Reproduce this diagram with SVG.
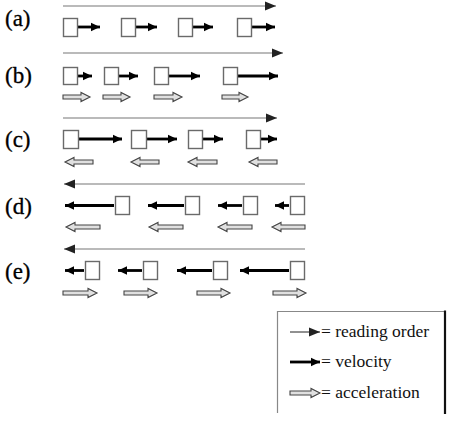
<svg xmlns="http://www.w3.org/2000/svg" width="474" height="422" viewBox="0 0 474 422">
<style>
.lbl{font-family:"Liberation Serif","DejaVu Serif",serif;font-size:23px;fill:#000;stroke:#000;stroke-width:0.3}
.leg{font-family:"Liberation Serif","Times New Roman",serif;font-size:17.5px;fill:#111}
.box{fill:#fff;stroke:#6a6a6a;stroke-width:1.4}
.ro{stroke:#777;stroke-width:1.1;fill:none}
.vel{stroke:#000;stroke-width:2.8;fill:none}
.acc{fill:#e0e0e0;stroke:#444;stroke-width:1.1;stroke-linejoin:miter}
.frame{stroke:#888;stroke-width:1.2;fill:none}
</style>
<defs>
<marker id="roHead" markerUnits="userSpaceOnUse" markerWidth="12" markerHeight="10" refX="11" refY="5" orient="auto">
<path d="M0,0.5 L11,5 L0,9.5 Z" fill="#222"/>
</marker>
<marker id="velHead" markerUnits="userSpaceOnUse" markerWidth="10" markerHeight="10" refX="9" refY="5" orient="auto">
<path d="M0,0.8 L9,5 L0,9.2 Z" fill="#000"/>
</marker>
</defs>

<g id="labels">
<text class="lbl" x="5" y="26">(a)</text>
<text class="lbl" x="5" y="83">(b)</text>
<text class="lbl" x="5" y="147">(c)</text>
<text class="lbl" x="5" y="214">(d)</text>
<text class="lbl" x="5" y="279">(e)</text>
</g>

<g id="connectors">
<!-- reading order -->
<line class="ro" x1="63" y1="6" x2="276" y2="6" marker-end="url(#roHead)"/>
<line class="ro" x1="63" y1="53" x2="283" y2="53" marker-end="url(#roHead)"/>
<line class="ro" x1="63" y1="118" x2="277" y2="118" marker-end="url(#roHead)"/>
<line class="ro" x1="305" y1="184" x2="64" y2="184" marker-end="url(#roHead)"/>
<line class="ro" x1="305" y1="249" x2="64" y2="249" marker-end="url(#roHead)"/>
<!-- velocity (a) -->
<line class="vel" x1="78" y1="27" x2="100" y2="27" marker-end="url(#velHead)"/>
<line class="vel" x1="136" y1="27" x2="157" y2="27" marker-end="url(#velHead)"/>
<line class="vel" x1="193" y1="27" x2="213" y2="27" marker-end="url(#velHead)"/>
<line class="vel" x1="252" y1="27" x2="275" y2="27" marker-end="url(#velHead)"/>
<!-- velocity (b) -->
<line class="vel" x1="78" y1="76" x2="92" y2="76" marker-end="url(#velHead)"/>
<line class="vel" x1="119" y1="76" x2="138" y2="76" marker-end="url(#velHead)"/>
<line class="vel" x1="169" y1="76" x2="200" y2="76" marker-end="url(#velHead)"/>
<line class="vel" x1="238" y1="76" x2="278" y2="76" marker-end="url(#velHead)"/>
<!-- velocity (c) -->
<line class="vel" x1="79" y1="139" x2="122" y2="139" marker-end="url(#velHead)"/>
<line class="vel" x1="147" y1="139" x2="177" y2="139" marker-end="url(#velHead)"/>
<line class="vel" x1="203" y1="139" x2="223" y2="139" marker-end="url(#velHead)"/>
<line class="vel" x1="261" y1="139" x2="277" y2="139" marker-end="url(#velHead)"/>
<!-- velocity (d) -->
<line class="vel" x1="114" y1="205.5" x2="65" y2="205.5" marker-end="url(#velHead)"/>
<line class="vel" x1="184" y1="205.5" x2="148" y2="205.5" marker-end="url(#velHead)"/>
<line class="vel" x1="242" y1="205.5" x2="218" y2="205.5" marker-end="url(#velHead)"/>
<line class="vel" x1="289" y1="205.5" x2="275" y2="205.5" marker-end="url(#velHead)"/>
<!-- velocity (e) -->
<line class="vel" x1="84" y1="270.5" x2="65" y2="270.5" marker-end="url(#velHead)"/>
<line class="vel" x1="142" y1="270.5" x2="118" y2="270.5" marker-end="url(#velHead)"/>
<line class="vel" x1="212" y1="270.5" x2="177" y2="270.5" marker-end="url(#velHead)"/>
<line class="vel" x1="289" y1="270.5" x2="240" y2="270.5" marker-end="url(#velHead)"/>
<!-- acceleration (b), rightward -->
<path class="acc" d="M63,95 H81 V92.5 L90,97 L81,101.5 V99 H63 Z"/>
<path class="acc" d="M103,95 H121 V92.5 L130,97 L121,101.5 V99 H103 Z"/>
<path class="acc" d="M154,95 H173 V92.5 L182,97 L173,101.5 V99 H154 Z"/>
<path class="acc" d="M222,95 H239 V92.5 L248,97 L239,101.5 V99 H222 Z"/>
<!-- acceleration (c), leftward -->
<path class="acc" d="M93,160 H74 V157.5 L65,162 L74,166.5 V164 H93 Z"/>
<path class="acc" d="M159,160 H140 V157.5 L131,162 L140,166.5 V164 H159 Z"/>
<path class="acc" d="M217,160 H197 V157.5 L188,162 L197,166.5 V164 H217 Z"/>
<path class="acc" d="M277,160 H258 V157.5 L249,162 L258,166.5 V164 H277 Z"/>
<!-- acceleration (d), leftward -->
<path class="acc" d="M100,225 H75 V222.5 L66,227 L75,231.5 V229 H100 Z"/>
<path class="acc" d="M183,225 H158 V222.5 L149,227 L158,231.5 V229 H183 Z"/>
<path class="acc" d="M252,225 H227 V222.5 L218,227 L227,231.5 V229 H252 Z"/>
<path class="acc" d="M305,225 H281 V222.5 L272,227 L281,231.5 V229 H305 Z"/>
<!-- acceleration (e), rightward -->
<path class="acc" d="M63,291 H88 V288.5 L97,293 L88,297.5 V295 H63 Z"/>
<path class="acc" d="M124,291 H148 V288.5 L157,293 L148,297.5 V295 H124 Z"/>
<path class="acc" d="M197,291 H221 V288.5 L230,293 L221,297.5 V295 H197 Z"/>
<path class="acc" d="M273,291 H297 V288.5 L306,293 L297,297.5 V295 H273 Z"/>
</g>

<g id="row-a">
<g id="a1"><rect class="box" x="63.5" y="18.5" width="14" height="18"/></g>
<g id="a2"><rect class="box" x="121.5" y="18.5" width="14" height="18"/></g>
<g id="a3"><rect class="box" x="178.5" y="18.5" width="14" height="18"/></g>
<g id="a4"><rect class="box" x="237.5" y="18.5" width="14" height="18"/></g>
</g>
<g id="row-b">
<g id="b1"><rect class="box" x="63.5" y="67.5" width="14" height="17"/></g>
<g id="b2"><rect class="box" x="104.5" y="67.5" width="14" height="17"/></g>
<g id="b3"><rect class="box" x="154.5" y="67.5" width="14" height="17"/></g>
<g id="b4"><rect class="box" x="223.5" y="67.5" width="14" height="17"/></g>
</g>
<g id="row-c">
<g id="c1"><rect class="box" x="63.5" y="130.5" width="15" height="18"/></g>
<g id="c2"><rect class="box" x="131.5" y="130.5" width="15" height="18"/></g>
<g id="c3"><rect class="box" x="188.5" y="130.5" width="14" height="18"/></g>
<g id="c4"><rect class="box" x="246.5" y="130.5" width="14" height="18"/></g>
</g>
<g id="row-d">
<g id="d1"><rect class="box" x="115.5" y="196.5" width="14" height="18"/></g>
<g id="d2"><rect class="box" x="185.5" y="196.5" width="14" height="18"/></g>
<g id="d3"><rect class="box" x="243.5" y="196.5" width="14" height="18"/></g>
<g id="d4"><rect class="box" x="290.5" y="196.5" width="14" height="18"/></g>
</g>
<g id="row-e">
<g id="e1"><rect class="box" x="85.5" y="261.5" width="14" height="18"/></g>
<g id="e2"><rect class="box" x="143.5" y="261.5" width="14" height="18"/></g>
<g id="e3"><rect class="box" x="213.5" y="261.5" width="14" height="18"/></g>
<g id="e4"><rect class="box" x="290.5" y="261.5" width="14" height="18"/></g>
</g>

<g id="legend">
<path class="frame" d="M277.5,413 V311.5 H445"/>
<line x1="445" y1="310.5" x2="445" y2="414" stroke="#111" stroke-width="2.2"/>
<line x1="290" y1="332" x2="320" y2="332" stroke="#222" stroke-width="1" marker-end="url(#roHead)"/>
<text class="leg" x="321" y="337">= reading order</text>
<line x1="290" y1="362" x2="320" y2="362" class="vel" marker-end="url(#velHead)"/>
<text class="leg" x="321" y="367">= velocity</text>
<path class="acc" d="M290,391 H311 V388.5 L320,393 L311,397.5 V395 H290 Z"/>
<text class="leg" x="321" y="398">= acceleration</text>
</g>
</svg>
